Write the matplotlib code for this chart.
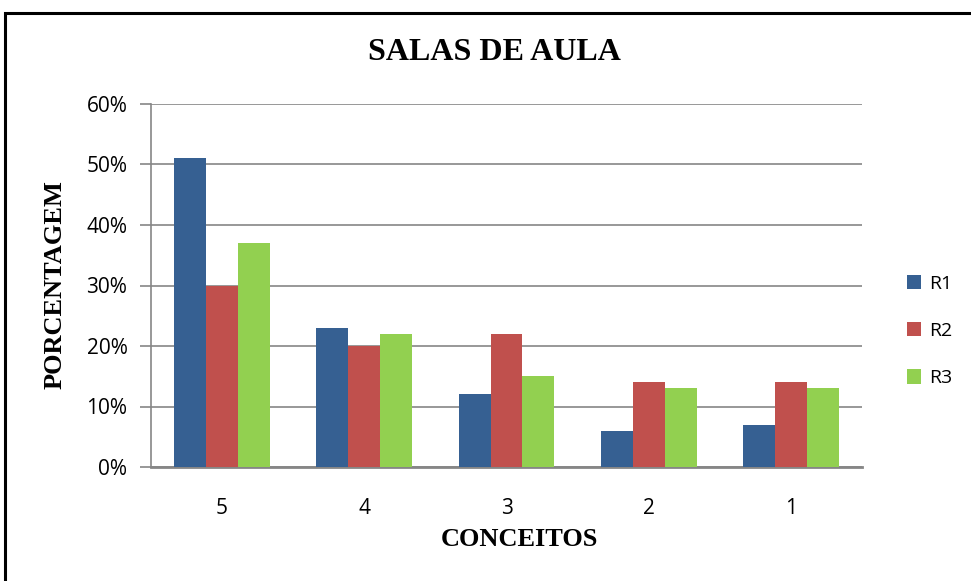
import numpy as np
import matplotlib
matplotlib.use('Agg')
import matplotlib.pyplot as plt
from matplotlib.patches import Rectangle

# dados
conceitos = ['5', '4', '3', '2', '1']
r1 = [51, 23, 12, 6, 7]
r2 = [30, 20, 22, 14, 14]
r3 = [37, 22, 15, 13, 13]
series = ['R1', 'R2', 'R3']
cores = ['#366092', '#C0504D', '#92D050']

W, H = 971, 581
fig = plt.figure(figsize=(W / 100, H / 100), dpi=100)
ax = fig.add_axes([151 / W, 1 - 467 / H, (862 - 151) / W, (467 - 104) / H])

# moldura preta
fig.patches.append(Rectangle((5 / W, -0.1), 1.1, 1 - 13 / H + 0.1, transform=fig.transFigure,
                             fill=False, edgecolor='black', linewidth=2.2))

x = np.arange(len(conceitos))
larg = 0.225
for i, (vals, nome) in enumerate(zip([r1, r2, r3], series)):
    ax.bar(x + (i - 1) * larg, vals, larg, color=cores[i], label=nome, zorder=3)

ax.set_xlim(-0.5, 4.5)
ax.set_ylim(0, 60)
ax.set_yticks(range(0, 61, 10))
ax.set_yticklabels([f'{v}%' for v in range(0, 61, 10)], fontsize=15, family='Open Sans')
ax.set_xticks(x)
ax.set_xticklabels(conceitos, fontsize=15, family='Open Sans')
ax.tick_params(axis='y', length=8, color='#868686', width=1.2, pad=9)
ax.tick_params(axis='x', length=0, pad=22)
ax.grid(axis='y', color='#868686', linewidth=1.2, zorder=0)
for s in ['top', 'right']:
    ax.spines[s].set_visible(False)
ax.spines['left'].set_color('#868686')
ax.spines['left'].set_linewidth(1.2)
ax.spines['bottom'].set_color('#868686')
ax.spines['bottom'].set_linewidth(2)

fig.text(494 / W, 1 - 53 / H, 'SALAS DE AULA', ha='center', va='center', fontsize=23,
         fontweight='bold', family='Liberation Serif')
fig.text(519 / W, 1 - 540 / H, 'CONCEITOS', ha='center', va='center', fontsize=19,
         fontweight='bold', family='Liberation Serif')
fig.text(55 / W, 1 - 285 / H, 'PORCENTAGEM', ha='center', va='center', fontsize=19,
         fontweight='bold', family='Liberation Serif', rotation=90)

leg = fig.legend(loc='center left', bbox_to_anchor=(889 / W, 1 - 331 / H), frameon=False,
                 prop={'family': 'Open Sans', 'size': 14}, handlelength=0.75, handleheight=0.75,
                 labelspacing=1.5, handletextpad=0.4)

fig.savefig('out.png', dpi=100)
